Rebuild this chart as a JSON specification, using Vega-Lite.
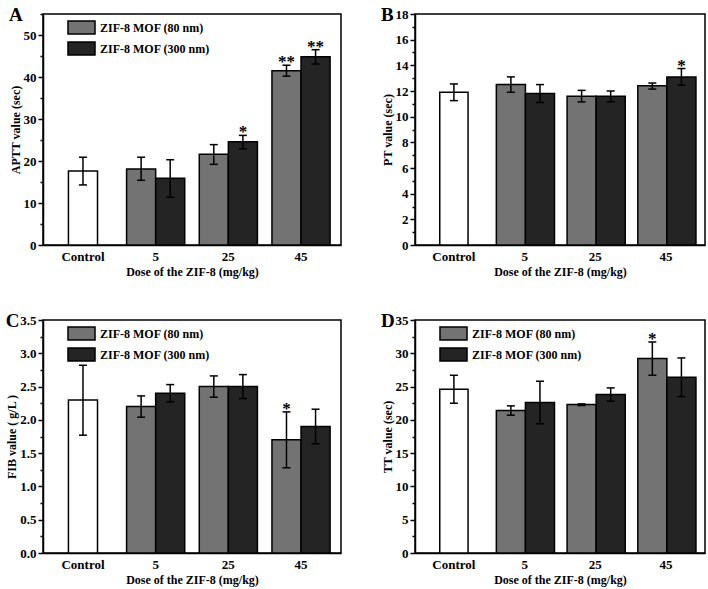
{
  "$schema": "https://vega.github.io/schema/vega-lite/v6.json",
  "padding": 5,
  "background": "white",
  "data": {"values": [
    {"panel": "A", "group": "Control", "series": "Control", "value": 17.6, "lo": 14.3, "hi": 20.9, "sig": ""},
    {"panel": "A", "group": "5", "series": "ZIF-8 MOF (80 nm)", "value": 18.1, "lo": 15.4, "hi": 20.9, "sig": ""},
    {"panel": "A", "group": "5", "series": "ZIF-8 MOF (300 nm)", "value": 15.9, "lo": 11.4, "hi": 20.3, "sig": ""},
    {"panel": "A", "group": "25", "series": "ZIF-8 MOF (80 nm)", "value": 21.6, "lo": 19.2, "hi": 23.9, "sig": ""},
    {"panel": "A", "group": "25", "series": "ZIF-8 MOF (300 nm)", "value": 24.6, "lo": 22.9, "hi": 26.1, "sig": "*"},
    {"panel": "A", "group": "45", "series": "ZIF-8 MOF (80 nm)", "value": 41.5, "lo": 40.2, "hi": 42.8, "sig": "**"},
    {"panel": "A", "group": "45", "series": "ZIF-8 MOF (300 nm)", "value": 44.8, "lo": 43.1, "hi": 46.5, "sig": "**"},
    {"panel": "B", "group": "Control", "series": "Control", "value": 11.9, "lo": 11.25, "hi": 12.55, "sig": ""},
    {"panel": "B", "group": "5", "series": "ZIF-8 MOF (80 nm)", "value": 12.5, "lo": 11.9, "hi": 13.1, "sig": ""},
    {"panel": "B", "group": "5", "series": "ZIF-8 MOF (300 nm)", "value": 11.8, "lo": 11.1, "hi": 12.5, "sig": ""},
    {"panel": "B", "group": "25", "series": "ZIF-8 MOF (80 nm)", "value": 11.6, "lo": 11.15, "hi": 12.05, "sig": ""},
    {"panel": "B", "group": "25", "series": "ZIF-8 MOF (300 nm)", "value": 11.6, "lo": 11.15, "hi": 12.0, "sig": ""},
    {"panel": "B", "group": "45", "series": "ZIF-8 MOF (80 nm)", "value": 12.4, "lo": 12.15, "hi": 12.62, "sig": ""},
    {"panel": "B", "group": "45", "series": "ZIF-8 MOF (300 nm)", "value": 13.1, "lo": 12.45, "hi": 13.75, "sig": "*"},
    {"panel": "C", "group": "Control", "series": "Control", "value": 2.3, "lo": 1.77, "hi": 2.82, "sig": ""},
    {"panel": "C", "group": "5", "series": "ZIF-8 MOF (80 nm)", "value": 2.2, "lo": 2.04, "hi": 2.36, "sig": ""},
    {"panel": "C", "group": "5", "series": "ZIF-8 MOF (300 nm)", "value": 2.4, "lo": 2.27, "hi": 2.53, "sig": ""},
    {"panel": "C", "group": "25", "series": "ZIF-8 MOF (80 nm)", "value": 2.5, "lo": 2.34, "hi": 2.66, "sig": ""},
    {"panel": "C", "group": "25", "series": "ZIF-8 MOF (300 nm)", "value": 2.5, "lo": 2.32, "hi": 2.68, "sig": ""},
    {"panel": "C", "group": "45", "series": "ZIF-8 MOF (80 nm)", "value": 1.7, "lo": 1.28, "hi": 2.12, "sig": "*"},
    {"panel": "C", "group": "45", "series": "ZIF-8 MOF (300 nm)", "value": 1.9, "lo": 1.64, "hi": 2.16, "sig": ""},
    {"panel": "D", "group": "Control", "series": "Control", "value": 24.6, "lo": 22.5, "hi": 26.7, "sig": ""},
    {"panel": "D", "group": "5", "series": "ZIF-8 MOF (80 nm)", "value": 21.4, "lo": 20.7, "hi": 22.1, "sig": ""},
    {"panel": "D", "group": "5", "series": "ZIF-8 MOF (300 nm)", "value": 22.6, "lo": 19.4, "hi": 25.8, "sig": ""},
    {"panel": "D", "group": "25", "series": "ZIF-8 MOF (80 nm)", "value": 22.3, "lo": 22.15, "hi": 22.4, "sig": ""},
    {"panel": "D", "group": "25", "series": "ZIF-8 MOF (300 nm)", "value": 23.8, "lo": 22.8, "hi": 24.8, "sig": ""},
    {"panel": "D", "group": "45", "series": "ZIF-8 MOF (80 nm)", "value": 29.2, "lo": 26.7, "hi": 31.7, "sig": "*"},
    {"panel": "D", "group": "45", "series": "ZIF-8 MOF (300 nm)", "value": 26.4, "lo": 23.5, "hi": 29.3, "sig": ""}
  ]},
  "spacing": 33,
  "resolve": {"scale": {"color": "independent", "x": "independent", "y": "independent", "xOffset": "independent"}, "legend": {"color": "independent"}},
  "vconcat": [
    {
      "hconcat": [
        {
          "title": {"text": "A"},
          "width": 298, "height": 231,
          "transform": [{"filter": "datum.panel === 'A'"}],
          "encoding": {"x": {"field": "group", "type": "nominal", "sort": ["Control", "5", "25", "45"], "scale": {"paddingInner": 0.2, "paddingOuter": 0.15}, "title": "Dose of the ZIF-8 (mg/kg)"}},
          "layer": [
            {"transform": [{"filter": "datum.series === 'Control'"}], "mark": {"type": "bar", "fill": "white", "stroke": "black", "strokeWidth": 1.5, "width": {"band": 0.5}},
             "encoding": {"y": {"field": "value", "type": "quantitative", "scale": {"domain": [0, 55], "nice": false}, "title": "APTT value (sec)",
               "axis": {"values": [0, 5, 10, 15, 20, 25, 30, 35, 40, 45, 50, 55], "tickCount": 100, "format": "d", "labelFontWeight": "bold", "labelOverlap": false, "labelExpr": "datum.value % 10 === 0 ? datum.label : ''", "tickSize": {"condition": {"test": "datum.value % 10 === 0", "value": 5}, "value": 3}}}}},
            {"transform": [{"filter": "datum.series !== 'Control'"}], "mark": {"type": "bar", "stroke": "black", "strokeWidth": 1.5},
             "encoding": {"xOffset": {"field": "series", "type": "nominal", "sort": null, "scale": {"domain": ["ZIF-8 MOF (80 nm)", "ZIF-8 MOF (300 nm)"], "paddingInner": 0, "paddingOuter": 0}},
               "y": {"field": "value", "type": "quantitative", "scale": {"domain": [0, 55], "nice": false}, "title": "APTT value (sec)"},
               "color": {"field": "series", "type": "nominal", "scale": {"domain": ["ZIF-8 MOF (80 nm)", "ZIF-8 MOF (300 nm)"], "range": ["#737373", "#242424"]},
                 "legend": {"title": null, "orient": "none", "legendX": 29, "legendY": 4}}}},
            {"transform": [{"filter": "datum.series === 'Control'"}], "mark": {"type": "rule", "strokeWidth": 1.5, "color": "black"},
             "encoding": {"y": {"field": "lo", "type": "quantitative", "scale": {"domain": [0, 55], "nice": false}, "title": "APTT value (sec)"}, "y2": {"field": "hi"}}},
            {"transform": [{"filter": "datum.series === 'Control'"}, {"fold": ["lo", "hi"], "as": ["end", "ev"]}], "mark": {"type": "tick", "orient": "horizontal", "size": 8, "thickness": 1.5, "color": "black", "opacity": 1},
             "encoding": {"y": {"field": "ev", "type": "quantitative", "scale": {"domain": [0, 55], "nice": false}, "title": "APTT value (sec)"}}},
            {"transform": [{"filter": "datum.series !== 'Control'"}], "mark": {"type": "rule", "strokeWidth": 1.5, "color": "black"},
             "encoding": {"xOffset": {"field": "series", "type": "nominal", "sort": null, "scale": {"domain": ["ZIF-8 MOF (80 nm)", "ZIF-8 MOF (300 nm)"], "paddingInner": 0, "paddingOuter": 0}},
               "y": {"field": "lo", "type": "quantitative", "scale": {"domain": [0, 55], "nice": false}, "title": "APTT value (sec)"}, "y2": {"field": "hi"}}},
            {"transform": [{"filter": "datum.series !== 'Control'"}, {"fold": ["lo", "hi"], "as": ["end", "ev"]}], "mark": {"type": "tick", "orient": "horizontal", "size": 8, "thickness": 1.5, "color": "black", "opacity": 1},
             "encoding": {"xOffset": {"field": "series", "type": "nominal", "sort": null, "scale": {"domain": ["ZIF-8 MOF (80 nm)", "ZIF-8 MOF (300 nm)"], "paddingInner": 0, "paddingOuter": 0}},
               "y": {"field": "ev", "type": "quantitative", "scale": {"domain": [0, 55], "nice": false}, "title": "APTT value (sec)"}}},
            {"transform": [{"filter": "datum.sig !== ''"}], "mark": {"type": "text", "fontSize": 17, "fontWeight": "bold", "color": "black", "baseline": "alphabetic", "dy": 2},
             "encoding": {"xOffset": {"field": "series", "type": "nominal", "sort": null, "scale": {"domain": ["ZIF-8 MOF (80 nm)", "ZIF-8 MOF (300 nm)"], "paddingInner": 0, "paddingOuter": 0}},
               "y": {"field": "hi", "type": "quantitative", "scale": {"domain": [0, 55], "nice": false}, "title": "APTT value (sec)"}, "text": {"field": "sig"}}}
          ]
        },
        {
          "title": {"text": "B"},
          "width": 290, "height": 231,
          "transform": [{"filter": "datum.panel === 'B'"}],
          "encoding": {"x": {"field": "group", "type": "nominal", "sort": ["Control", "5", "25", "45"], "scale": {"paddingInner": 0.2, "paddingOuter": 0.15}, "title": "Dose of the ZIF-8 (mg/kg)"}},
          "layer": [
            {"transform": [{"filter": "datum.series === 'Control'"}], "mark": {"type": "bar", "fill": "white", "stroke": "black", "strokeWidth": 1.5, "width": {"band": 0.5}},
             "encoding": {"y": {"field": "value", "type": "quantitative", "scale": {"domain": [0, 18], "nice": false}, "title": "PT value (sec)",
               "axis": {"values": [0, 1, 2, 3, 4, 5, 6, 7, 8, 9, 10, 11, 12, 13, 14, 15, 16, 17, 18], "tickCount": 100, "format": "d", "labelFontWeight": "bold", "labelOverlap": false, "labelExpr": "datum.value % 2 === 0 ? datum.label : ''", "tickSize": {"condition": {"test": "datum.value % 2 === 0", "value": 5}, "value": 3}}}}},
            {"transform": [{"filter": "datum.series !== 'Control'"}], "mark": {"type": "bar", "stroke": "black", "strokeWidth": 1.5},
             "encoding": {"xOffset": {"field": "series", "type": "nominal", "sort": null, "scale": {"domain": ["ZIF-8 MOF (80 nm)", "ZIF-8 MOF (300 nm)"], "paddingInner": 0, "paddingOuter": 0}},
               "y": {"field": "value", "type": "quantitative", "scale": {"domain": [0, 18], "nice": false}, "title": "PT value (sec)"},
               "color": {"field": "series", "type": "nominal", "scale": {"domain": ["ZIF-8 MOF (80 nm)", "ZIF-8 MOF (300 nm)"], "range": ["#737373", "#242424"]},
                 "legend": {"title": null, "orient": "none", "legendX": 29, "legendY": 4}}}},
            {"transform": [{"filter": "datum.series === 'Control'"}], "mark": {"type": "rule", "strokeWidth": 1.5, "color": "black"},
             "encoding": {"y": {"field": "lo", "type": "quantitative", "scale": {"domain": [0, 18], "nice": false}, "title": "PT value (sec)"}, "y2": {"field": "hi"}}},
            {"transform": [{"filter": "datum.series === 'Control'"}, {"fold": ["lo", "hi"], "as": ["end", "ev"]}], "mark": {"type": "tick", "orient": "horizontal", "size": 8, "thickness": 1.5, "color": "black", "opacity": 1},
             "encoding": {"y": {"field": "ev", "type": "quantitative", "scale": {"domain": [0, 18], "nice": false}, "title": "PT value (sec)"}}},
            {"transform": [{"filter": "datum.series !== 'Control'"}], "mark": {"type": "rule", "strokeWidth": 1.5, "color": "black"},
             "encoding": {"xOffset": {"field": "series", "type": "nominal", "sort": null, "scale": {"domain": ["ZIF-8 MOF (80 nm)", "ZIF-8 MOF (300 nm)"], "paddingInner": 0, "paddingOuter": 0}},
               "y": {"field": "lo", "type": "quantitative", "scale": {"domain": [0, 18], "nice": false}, "title": "PT value (sec)"}, "y2": {"field": "hi"}}},
            {"transform": [{"filter": "datum.series !== 'Control'"}, {"fold": ["lo", "hi"], "as": ["end", "ev"]}], "mark": {"type": "tick", "orient": "horizontal", "size": 8, "thickness": 1.5, "color": "black", "opacity": 1},
             "encoding": {"xOffset": {"field": "series", "type": "nominal", "sort": null, "scale": {"domain": ["ZIF-8 MOF (80 nm)", "ZIF-8 MOF (300 nm)"], "paddingInner": 0, "paddingOuter": 0}},
               "y": {"field": "ev", "type": "quantitative", "scale": {"domain": [0, 18], "nice": false}, "title": "PT value (sec)"}}},
            {"transform": [{"filter": "datum.sig !== ''"}], "mark": {"type": "text", "fontSize": 17, "fontWeight": "bold", "color": "black", "baseline": "alphabetic", "dy": 2},
             "encoding": {"xOffset": {"field": "series", "type": "nominal", "sort": null, "scale": {"domain": ["ZIF-8 MOF (80 nm)", "ZIF-8 MOF (300 nm)"], "paddingInner": 0, "paddingOuter": 0}},
               "y": {"field": "hi", "type": "quantitative", "scale": {"domain": [0, 18], "nice": false}, "title": "PT value (sec)"}, "text": {"field": "sig"}}}
          ]
        }
      ],
      "spacing": 38
    },
    {
      "hconcat": [
        {
          "title": {"text": "C"},
          "width": 298, "height": 233,
          "transform": [{"filter": "datum.panel === 'C'"}],
          "encoding": {"x": {"field": "group", "type": "nominal", "sort": ["Control", "5", "25", "45"], "scale": {"paddingInner": 0.2, "paddingOuter": 0.15}, "title": "Dose of the ZIF-8 (mg/kg)"}},
          "layer": [
            {"transform": [{"filter": "datum.series === 'Control'"}], "mark": {"type": "bar", "fill": "white", "stroke": "black", "strokeWidth": 1.5, "width": {"band": 0.5}},
             "encoding": {"y": {"field": "value", "type": "quantitative", "scale": {"domain": [0, 3.5], "nice": false}, "title": "FIB value ( g/L )",
               "axis": {"values": [0, 0.25, 0.5, 0.75, 1, 1.25, 1.5, 1.75, 2, 2.25, 2.5, 2.75, 3, 3.25, 3.5], "tickCount": 100, "format": ".1f", "labelFontWeight": "bold", "labelOverlap": false, "labelExpr": "abs(datum.value * 2 - round(datum.value * 2)) < 0.001 ? datum.label : ''", "tickSize": {"condition": {"test": "abs(datum.value * 2 - round(datum.value * 2)) < 0.001", "value": 5}, "value": 3}}}}},
            {"transform": [{"filter": "datum.series !== 'Control'"}], "mark": {"type": "bar", "stroke": "black", "strokeWidth": 1.5},
             "encoding": {"xOffset": {"field": "series", "type": "nominal", "sort": null, "scale": {"domain": ["ZIF-8 MOF (80 nm)", "ZIF-8 MOF (300 nm)"], "paddingInner": 0, "paddingOuter": 0}},
               "y": {"field": "value", "type": "quantitative", "scale": {"domain": [0, 3.5], "nice": false}, "title": "FIB value ( g/L )"},
               "color": {"field": "series", "type": "nominal", "scale": {"domain": ["ZIF-8 MOF (80 nm)", "ZIF-8 MOF (300 nm)"], "range": ["#737373", "#242424"]},
                 "legend": {"title": null, "orient": "none", "legendX": 29, "legendY": 4}}}},
            {"transform": [{"filter": "datum.series === 'Control'"}], "mark": {"type": "rule", "strokeWidth": 1.5, "color": "black"},
             "encoding": {"y": {"field": "lo", "type": "quantitative", "scale": {"domain": [0, 3.5], "nice": false}, "title": "FIB value ( g/L )"}, "y2": {"field": "hi"}}},
            {"transform": [{"filter": "datum.series === 'Control'"}, {"fold": ["lo", "hi"], "as": ["end", "ev"]}], "mark": {"type": "tick", "orient": "horizontal", "size": 8, "thickness": 1.5, "color": "black", "opacity": 1},
             "encoding": {"y": {"field": "ev", "type": "quantitative", "scale": {"domain": [0, 3.5], "nice": false}, "title": "FIB value ( g/L )"}}},
            {"transform": [{"filter": "datum.series !== 'Control'"}], "mark": {"type": "rule", "strokeWidth": 1.5, "color": "black"},
             "encoding": {"xOffset": {"field": "series", "type": "nominal", "sort": null, "scale": {"domain": ["ZIF-8 MOF (80 nm)", "ZIF-8 MOF (300 nm)"], "paddingInner": 0, "paddingOuter": 0}},
               "y": {"field": "lo", "type": "quantitative", "scale": {"domain": [0, 3.5], "nice": false}, "title": "FIB value ( g/L )"}, "y2": {"field": "hi"}}},
            {"transform": [{"filter": "datum.series !== 'Control'"}, {"fold": ["lo", "hi"], "as": ["end", "ev"]}], "mark": {"type": "tick", "orient": "horizontal", "size": 8, "thickness": 1.5, "color": "black", "opacity": 1},
             "encoding": {"xOffset": {"field": "series", "type": "nominal", "sort": null, "scale": {"domain": ["ZIF-8 MOF (80 nm)", "ZIF-8 MOF (300 nm)"], "paddingInner": 0, "paddingOuter": 0}},
               "y": {"field": "ev", "type": "quantitative", "scale": {"domain": [0, 3.5], "nice": false}, "title": "FIB value ( g/L )"}}},
            {"transform": [{"filter": "datum.sig !== ''"}], "mark": {"type": "text", "fontSize": 17, "fontWeight": "bold", "color": "black", "baseline": "alphabetic", "dy": 2},
             "encoding": {"xOffset": {"field": "series", "type": "nominal", "sort": null, "scale": {"domain": ["ZIF-8 MOF (80 nm)", "ZIF-8 MOF (300 nm)"], "paddingInner": 0, "paddingOuter": 0}},
               "y": {"field": "hi", "type": "quantitative", "scale": {"domain": [0, 3.5], "nice": false}, "title": "FIB value ( g/L )"}, "text": {"field": "sig"}}}
          ]
        },
        {
          "title": {"text": "D"},
          "width": 290, "height": 233,
          "transform": [{"filter": "datum.panel === 'D'"}],
          "encoding": {"x": {"field": "group", "type": "nominal", "sort": ["Control", "5", "25", "45"], "scale": {"paddingInner": 0.2, "paddingOuter": 0.15}, "title": "Dose of the ZIF-8 (mg/kg)"}},
          "layer": [
            {"transform": [{"filter": "datum.series === 'Control'"}], "mark": {"type": "bar", "fill": "white", "stroke": "black", "strokeWidth": 1.5, "width": {"band": 0.5}},
             "encoding": {"y": {"field": "value", "type": "quantitative", "scale": {"domain": [0, 35], "nice": false}, "title": "TT value (sec)",
               "axis": {"values": [0, 2.5, 5, 7.5, 10, 12.5, 15, 17.5, 20, 22.5, 25, 27.5, 30, 32.5, 35], "tickCount": 100, "format": "d", "labelFontWeight": "bold", "labelOverlap": false, "labelExpr": "datum.value % 5 === 0 ? datum.label : ''", "tickSize": {"condition": {"test": "datum.value % 5 === 0", "value": 5}, "value": 3}}}}},
            {"transform": [{"filter": "datum.series !== 'Control'"}], "mark": {"type": "bar", "stroke": "black", "strokeWidth": 1.5},
             "encoding": {"xOffset": {"field": "series", "type": "nominal", "sort": null, "scale": {"domain": ["ZIF-8 MOF (80 nm)", "ZIF-8 MOF (300 nm)"], "paddingInner": 0, "paddingOuter": 0}},
               "y": {"field": "value", "type": "quantitative", "scale": {"domain": [0, 35], "nice": false}, "title": "TT value (sec)"},
               "color": {"field": "series", "type": "nominal", "scale": {"domain": ["ZIF-8 MOF (80 nm)", "ZIF-8 MOF (300 nm)"], "range": ["#737373", "#242424"]},
                 "legend": {"title": null, "orient": "none", "legendX": 29, "legendY": 4}}}},
            {"transform": [{"filter": "datum.series === 'Control'"}], "mark": {"type": "rule", "strokeWidth": 1.5, "color": "black"},
             "encoding": {"y": {"field": "lo", "type": "quantitative", "scale": {"domain": [0, 35], "nice": false}, "title": "TT value (sec)"}, "y2": {"field": "hi"}}},
            {"transform": [{"filter": "datum.series === 'Control'"}, {"fold": ["lo", "hi"], "as": ["end", "ev"]}], "mark": {"type": "tick", "orient": "horizontal", "size": 8, "thickness": 1.5, "color": "black", "opacity": 1},
             "encoding": {"y": {"field": "ev", "type": "quantitative", "scale": {"domain": [0, 35], "nice": false}, "title": "TT value (sec)"}}},
            {"transform": [{"filter": "datum.series !== 'Control'"}], "mark": {"type": "rule", "strokeWidth": 1.5, "color": "black"},
             "encoding": {"xOffset": {"field": "series", "type": "nominal", "sort": null, "scale": {"domain": ["ZIF-8 MOF (80 nm)", "ZIF-8 MOF (300 nm)"], "paddingInner": 0, "paddingOuter": 0}},
               "y": {"field": "lo", "type": "quantitative", "scale": {"domain": [0, 35], "nice": false}, "title": "TT value (sec)"}, "y2": {"field": "hi"}}},
            {"transform": [{"filter": "datum.series !== 'Control'"}, {"fold": ["lo", "hi"], "as": ["end", "ev"]}], "mark": {"type": "tick", "orient": "horizontal", "size": 8, "thickness": 1.5, "color": "black", "opacity": 1},
             "encoding": {"xOffset": {"field": "series", "type": "nominal", "sort": null, "scale": {"domain": ["ZIF-8 MOF (80 nm)", "ZIF-8 MOF (300 nm)"], "paddingInner": 0, "paddingOuter": 0}},
               "y": {"field": "ev", "type": "quantitative", "scale": {"domain": [0, 35], "nice": false}, "title": "TT value (sec)"}}},
            {"transform": [{"filter": "datum.sig !== ''"}], "mark": {"type": "text", "fontSize": 17, "fontWeight": "bold", "color": "black", "baseline": "alphabetic", "dy": 2},
             "encoding": {"xOffset": {"field": "series", "type": "nominal", "sort": null, "scale": {"domain": ["ZIF-8 MOF (80 nm)", "ZIF-8 MOF (300 nm)"], "paddingInner": 0, "paddingOuter": 0}},
               "y": {"field": "hi", "type": "quantitative", "scale": {"domain": [0, 35], "nice": false}, "title": "TT value (sec)"}, "text": {"field": "sig"}}}
          ]
        }
      ],
      "spacing": 38,
      "resolve": {"scale": {"color": "independent"}, "legend": {"color": "independent"}}
    }
  ],
  "config": {
    "font": "Liberation Serif",
    "view": {"stroke": "black", "strokeWidth": 1.5},
    "concat": {"spacing": 38},
    "axis": {"grid": false, "domainColor": "black", "domainWidth": 1.5, "tickColor": "black", "tickWidth": 1.5, "labelColor": "black", "labelFont": "Liberation Serif", "labelFontWeight": "bold", "labelFontSize": 13, "titleFont": "Liberation Serif", "titleFontWeight": "bold", "titleFontSize": 12, "titleColor": "black"},
    "axisX": {"ticks": false, "labelAngle": 0, "labelFontSize": 13, "labelPadding": 5, "titlePadding": 3},
    "axisY": {"labelPadding": 2, "titlePadding": 1, "tickSize": 5, "labelOverlap": false, "tickCount": 100},
    "legend": {"symbolType": "M-1.59,-0.765H1.59V0.765H-1.59Z", "symbolSize": 289, "symbolStrokeColor": "black", "symbolStrokeWidth": 1.5, "symbolOpacity": 1, "labelFont": "Liberation Serif", "labelFontSize": 12, "labelFontWeight": "bold", "labelColor": "black", "labelOffset": 9, "rowPadding": 0, "padding": 0},
    "title": {"font": "Liberation Serif", "fontSize": 19, "fontWeight": "bold", "color": "black", "anchor": "start", "frame": "bounds", "offset": -17}
  }
}
